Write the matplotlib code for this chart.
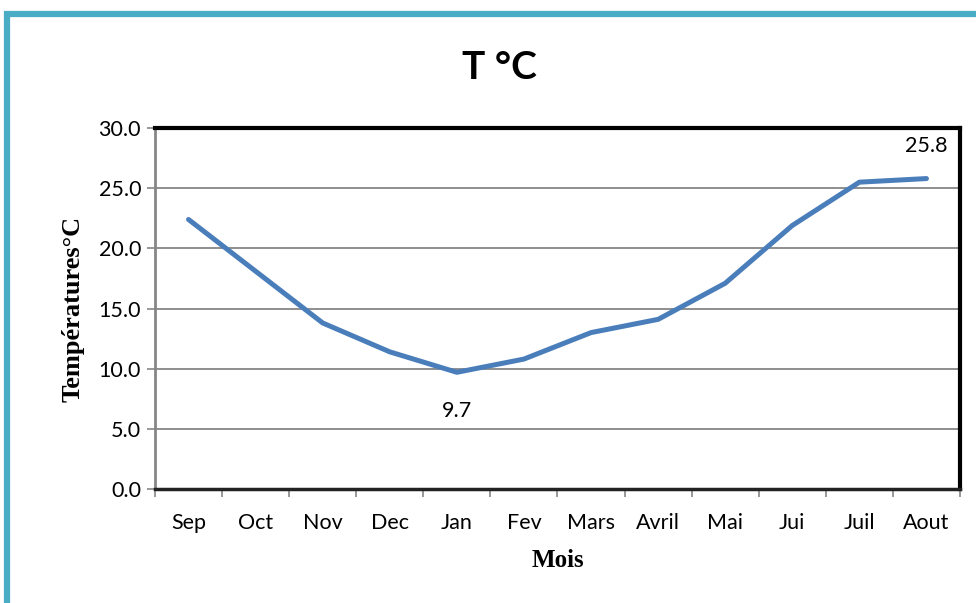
import matplotlib.pyplot as plt
from matplotlib.patches import Rectangle

mois = ['Sep', 'Oct', 'Nov', 'Dec', 'Jan', 'Fev', 'Mars', 'Avril',
        'Mai', 'Jui', 'Juil', 'Aout']
temperatures = [22.4, 18.1, 13.8, 11.4, 9.7, 10.8, 13.0, 14.1,
                17.1, 21.9, 25.5, 25.8]
yticks = [0, 5, 10, 15, 20, 25, 30]

fig = plt.figure(figsize=(9.76, 6.03), dpi=100)
ax = fig.add_axes([0.1588, 0.189, 0.8248, 0.5987])

# outer chart frame
fig.patches.append(Rectangle((0.0075, -0.2), 1.2, 1.177, transform=fig.transFigure,
                             fill=False, edgecolor='#4BACC6', linewidth=4.5))

x = list(range(len(mois)))
ax.plot(x, temperatures, color='#4A7EBB', linewidth=3.6,
        solid_capstyle='round', solid_joinstyle='round', zorder=3)

ax.set_xlim(-0.5, len(mois) - 0.5)
ax.set_ylim(0, 30)
ax.set_yticks(yticks)
ax.set_yticklabels([f'{v:.1f}' for v in yticks], fontsize=15.5, family='Lato')
ax.set_xticks(x)
ax.set_xticklabels(mois, fontsize=15.5, family='Lato')
ax.tick_params(axis='x', length=0, pad=17)
ax.set_xticks([i - 0.5 for i in range(len(mois) + 1)], minor=True)
ax.tick_params(axis='x', which='minor', length=6, width=1.2, color='#868686')
ax.tick_params(axis='y', length=6, width=1.2, color='#868686', pad=4)

ax.grid(axis='y', color='#868686', linewidth=1.3)
ax.set_axisbelow(True)

for side in ['top', 'right']:
    ax.spines[side].set_linewidth(3)
    ax.spines[side].set_color('black')
ax.spines['bottom'].set_linewidth(2.5)
ax.spines['bottom'].set_color('#222222')
ax.spines['left'].set_linewidth(2)
ax.spines['left'].set_color('#868686')

# labelled extremes
imin = temperatures.index(min(temperatures))
imax = temperatures.index(max(temperatures))
ax.annotate(f'{temperatures[imin]:.1f}', (imin, temperatures[imin]),
            xytext=(0, -21), textcoords='offset points',
            ha='center', va='top', fontsize=15.5, family='Lato')
ax.annotate(f'{temperatures[imax]:.1f}', (imax, temperatures[imax]),
            xytext=(0, 16), textcoords='offset points',
            ha='center', va='bottom', fontsize=15.5, family='Lato')

fig.text(0.512, 0.888, 'T °C', ha='center', va='center',
         fontsize=28, fontweight='bold', family='Lato')
ax.set_xlabel('Mois', fontsize=18, fontweight='bold',
              family='Liberation Serif', labelpad=12)
ax.set_ylabel('Températures°C', fontsize=19, fontweight='bold',
              family='Liberation Serif', labelpad=10)

fig.savefig('out.png', dpi=100)
